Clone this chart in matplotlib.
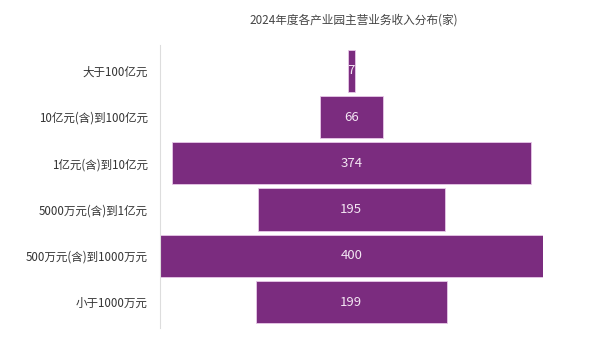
import matplotlib.pyplot as plt

plt.rcParams['font.family'] = ['Noto Sans CJK SC', 'DejaVu Sans']

categories = ['大于100亿元', '10亿元(含)到100亿元', '1亿元(含)到10亿元',
              '5000万元(含)到1亿元', '500万元(含)到1000万元', '小于1000万元']
counts = [7, 66, 374, 195, 400, 199]
title = '2024年度各产业园主营业务收入分布(家)'

fig = plt.figure(figsize=(5.98, 3.62), dpi=100)
ax = fig.add_axes([159.5 / 598, 34.5 / 362, 383.5 / 598, 282.2 / 362])

ypos = list(range(len(categories)))[::-1]
lefts = [-c / 2 for c in counts]
ax.barh(ypos, counts, left=lefts, height=0.91, color='#7B2C7F',
        edgecolor='#e8c8e8', linewidth=0.6)

for y, c in zip(ypos, counts):
    ax.text(0, y, str(c), ha='center', va='center', color='#f3e6f3', fontsize=9.5)

ax.set_xlim(-200, 200)
ax.set_ylim(-0.55, 5.55)
ax.set_yticks(ypos)
ax.set_yticklabels(categories, fontsize=8.3, color='#333333')
ax.tick_params(axis='y', length=0, pad=8.5)
ax.set_xticks([])
for s in ['top', 'right', 'bottom']:
    ax.spines[s].set_visible(False)
ax.spines['left'].set_color('#dddddd')
ax.spines['left'].set_linewidth(0.8)

fig.text(354 / 598, 1 - 20 / 362, title, ha='center', va='center',
         fontsize=8.4, color='#444444')

plt.savefig('out.png', dpi=100)
